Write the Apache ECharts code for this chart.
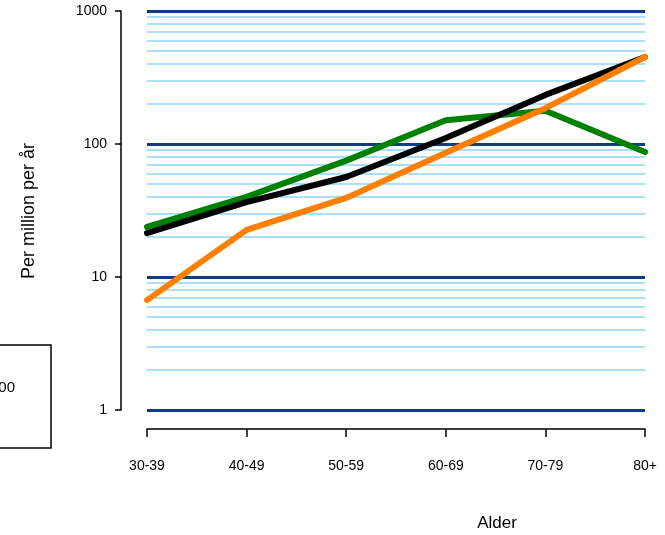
<!DOCTYPE html>
<html>
<head>
<meta charset="utf-8">
<script src="https://cdn.jsdelivr.net/npm/echarts@6/dist/echarts.min.js"></script>
<style>
  html, body { margin: 0; padding: 0; background: #fff; }
  #chart { width: 665px; height: 535px; }
</style>
</head>
<body>
<div id="chart"></div>
<script>
// aldersgrupper
const ageGroups = ['30-39', '40-49', '50-59', '60-69', '70-79', '80+']
// per million per år
const greenValues = [23.8, 40, 75, 151, 178, 87]
const blackValues = [21.4, 36.6, 56.5, 111, 234, 451]
const orangeValues = [6.7, 22.6, 39.3, 86, 186, 451]
// minor gridlines (2..9 of each decade)
const minorGrid = [2, 3, 4, 5, 6, 7, 8, 9, 20, 30, 40, 50, 60, 70, 80, 90, 200, 300, 400, 500, 600, 700, 800, 900]

const chart = echarts.init(document.getElementById('chart'))

const font = 'Liberation Sans, Arial, sans-serif'

const lineSeries = (name, data, color) => ({
  name,
  type: 'line',
  data,
  symbol: 'none',
  lineStyle: { color, width: 6, cap: 'round', join: 'round' },
  z: 5
})

const option = {
  animation: false,
  grid: { left: 147, right: 20, top: 11, bottom: 125 },
  xAxis: {
    type: 'category',
    data: ageGroups,
    boundaryGap: false,
    offset: 19,
    axisLine: { lineStyle: { color: '#000', width: 1.5 } },
    axisTick: { length: 8, lineStyle: { color: '#000', width: 1.5 } },
    axisLabel: { color: '#000', fontSize: 14, fontFamily: font, margin: 30, interval: 0 },
    splitLine: { show: false }
  },
  yAxis: {
    type: 'log',
    logBase: 10,
    min: 1,
    max: 1000,
    offset: 26,
    axisLine: { show: true, lineStyle: { color: '#000', width: 1.5 } },
    axisTick: { show: true, length: 6, lineStyle: { color: '#000', width: 1.5 } },
    axisLabel: { color: '#000', fontSize: 14, fontFamily: font, margin: 14, formatter: v => String(Math.round(v)) },
    splitLine: { show: true, showMinLine: true, showMaxLine: true, lineStyle: { color: '#0b3f7c', width: 3 } }
  },
  series: [
    {
      type: 'line',
      data: [],
      markLine: {
        silent: true,
        symbol: 'none',
        label: { show: false },
        lineStyle: { color: '#aadff7', width: 2, type: 'solid' },
        data: minorGrid.map(v => ({ yAxis: v }))
      },
      z: 1
    },
    lineSeries('green', greenValues, '#008000'),
    lineSeries('black', blackValues, '#000000'),
    lineSeries('orange', orangeValues, '#ff7f00')
  ],
  graphic: [
    {
      type: 'text',
      x: 29, y: 211,
      rotation: Math.PI / 2,
      style: { text: 'Per million per år', x: 0, y: 0, fill: '#000', font: '18px ' + font, align: 'center', verticalAlign: 'middle' }
    },
    {
      type: 'text',
      style: { text: 'Alder', x: 497, y: 523, fill: '#000', font: '17px ' + font, align: 'center', verticalAlign: 'middle' }
    },
    {
      type: 'rect',
      shape: { x: -60, y: 345, width: 111, height: 103 },
      style: { fill: 'none', stroke: '#000', lineWidth: 1.5 }
    },
    {
      type: 'text',
      style: { text: '1900', x: 15, y: 388, fill: '#000', font: '15px ' + font, align: 'right', verticalAlign: 'middle' }
    }
  ]
}

chart.setOption(option)
</script>
</body>
</html>
